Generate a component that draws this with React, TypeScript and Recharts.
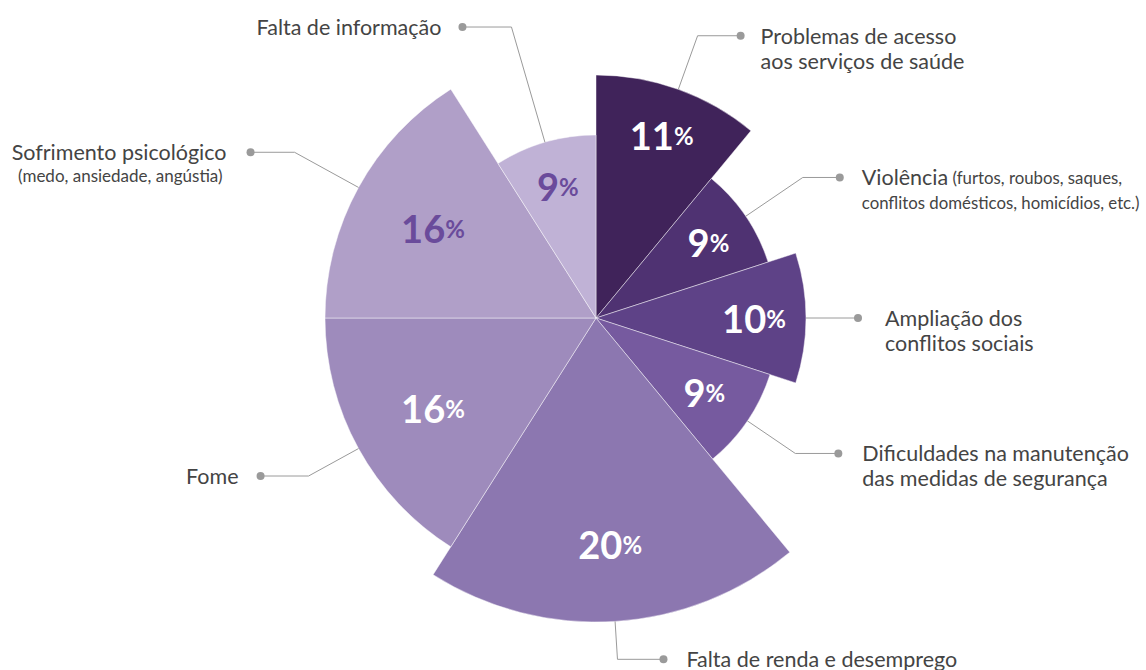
import { Cell, Pie, PieChart } from "recharts";

const FONT = "Lato, 'Noto Sans', sans-serif";

const labels = [
  ["Problemas de acesso", "aos serviços de saúde"],
  ["Violência", "conflitos domésticos, homicídios, etc.)"],
  ["Ampliação dos", "conflitos sociais"],
  ["Dificuldades na manutenção", "das medidas de segurança"],
  ["Falta de renda e desemprego"],
  ["Fome"],
  ["Sofrimento psicológico", "(medo, ansiedade, angústia)"],
  ["Falta de informação"],
];
const values = [11, 9, 10, 9, 20, 16, 16, 9];
const colors = ["#40235a", "#4f3272", "#5e4287", "#765a9f", "#8c77b0", "#9e8bbc", "#b09fc8", "#c0b2d6"];
const pctColors = ["#fff", "#fff", "#fff", "#fff", "#fff", "#fff", "#6a4b9b", "#6a4b9b"];

// layout: outer radius of each wedge, where the % sits, leader elbow radius, arm length, text gap
const outerR = [243, 181, 210, 183, 304, 271, 271, 183];
const pctR = [194, 136, 158, 131, 226, 186, 186, 137];
const elbowR = [300, 250, 210, 241, 342, 328, 344, 303];
const arm = [43, 37, 52, 43, 46, -48, -44, -49];
const gap = [20, 22, 27, 24, 23, 22, 24, 21];

const data = labels.map((l, i) => ({ name: l.join(" "), value: values[i] }));

const RAD = Math.PI / 180;
const CX = 596;
const CY = 318;

function makeLabel(idx: number) {
  return (props: any) => {
    if (props.index !== idx) return null;
    const { cx, cy, midAngle, outerRadius } = props;
    const cos = Math.cos(-midAngle * RAD);
    const sin = Math.sin(-midAngle * RAD);
    const px = cx + pctR[idx] * cos;
    const py = cy + pctR[idx] * sin;
    const sx = cx + outerRadius * cos;
    const sy = cy + outerRadius * sin;
    const ex = cx + elbowR[idx] * cos;
    const ey = cy + elbowR[idx] * sin;
    const dx = ex + arm[idx];
    const right = arm[idx] > 0;
    const tx = dx + (right ? gap[idx] : -gap[idx]);
    const anchor = right ? "start" : "end";
    const lines = labels[idx];
    return (
      <g>
        <text x={px} y={py} textAnchor="middle" dominantBaseline="central" fill={pctColors[idx]}
          fontFamily={FONT} fontWeight={700} fontSize={38}>
          {values[idx]}
          <tspan fontSize={24}>%</tspan>
        </text>
        <polyline points={`${sx},${sy} ${ex},${ey} ${dx},${ey}`} fill="none" stroke="#9a9a9a" strokeWidth={1} />
        <circle cx={dx} cy={ey} r={4} fill="#9a9a9a" />
        <text x={tx} y={ey} textAnchor={anchor} fontFamily={FONT} fill="#444" fontSize={21.5} dominantBaseline="central">
          {idx === 1 ? (
            <>
              <tspan>{lines[0]}</tspan>
              <tspan fontSize={16.8}> (furtos, roubos, saques,</tspan>
              <tspan x={tx} dy={25} fontSize={16.8}>{lines[1]}</tspan>
            </>
          ) : (
            lines.map((ln, j) => (
              <tspan key={j} x={j === 0 ? tx : tx - (idx === 6 ? 4 : 0)} dy={j === 0 ? 0 : idx === 6 ? 23 : 25}
                fontSize={idx === 6 && j === 1 ? 17 : 21.5}>
                {ln}
              </tspan>
            ))
          )}
        </text>
      </g>
    );
  };
}

export default function App() {
  return (
    <div style={{ width: 1146, height: 670, background: "#fff" }}>
      <style>{"body{margin:0}"}</style>
      <PieChart width={1146} height={670} margin={{ top: 0, right: 0, bottom: 0, left: 0 }}>
        {values.map((_, i) => (
          <Pie
            key={i}
            data={data}
            dataKey="value"
            nameKey="name"
            cx={CX}
            cy={CY}
            innerRadius={0}
            outerRadius={outerR[i]}
            startAngle={90}
            endAngle={-270}
            isAnimationActive={false}
            labelLine={false}
            label={makeLabel(i)}
          >
            {data.map((d, j) => (
              <Cell
                key={d.name}
                fill={j === i ? colors[i] : "transparent"}
                stroke={j === i ? "rgba(255,255,255,0.45)" : "none"}
                strokeWidth={1}
              />
            ))}
          </Pie>
        ))}
      </PieChart>
    </div>
  );
}
